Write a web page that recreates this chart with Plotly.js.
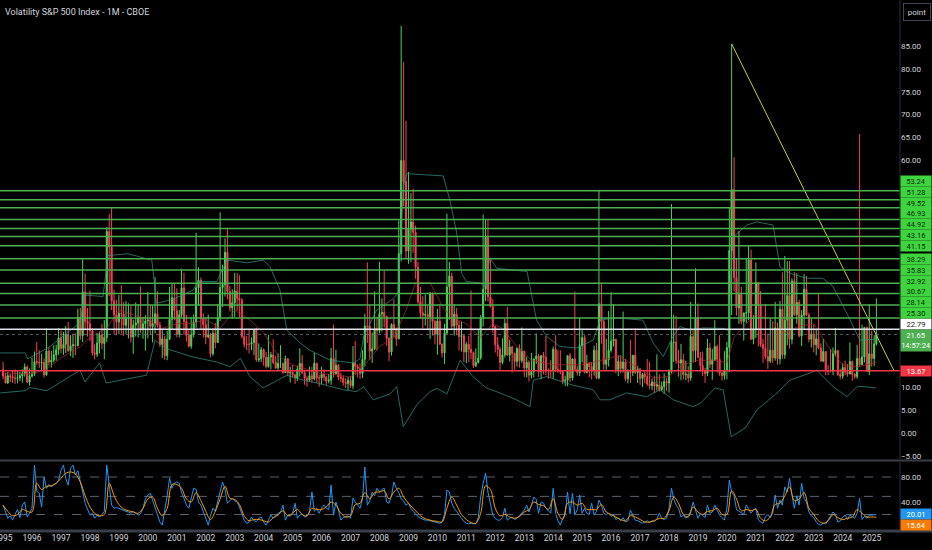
<!DOCTYPE html>
<html>
<head>
<meta charset="utf-8">
<script src="https://cdn.plot.ly/plotly-3.0.1.min.js"></script>
<style>
  html, body { margin: 0; padding: 0; background: #000; }
  #chart { width: 932px; height: 550px; }
</style>
</head>
<body>
<div id="chart"></div>
<script>
// VIX monthly candles, Jan 1995 .. Mar 2025 (one line per year)
const firstYear = 1995;

const opens = [
  14.0,12.5,11.0,12.6,12.4,12.1,12.0,12.1,12.6,13.0,14.5,11.2,
  12.5,13.0,15.7,15.6,15.4,15.5,12.8,18.0,15.6,16.0,17.2,18.3,
  20.9,18.6,19.5,21.6,18.1,19.2,19.4,19.2,25.4,21.4,31.0,24.5,
  24.0,22.5,17.6,17.3,19.8,21.6,19.7,21.0,44.3,40.9,29.0,26.0,
  24.4,26.3,26.2,23.7,25.2,25.2,21.1,23.7,24.2,25.4,22.7,24.0,
  24.6,24.9,23.4,24.1,26.2,23.7,19.5,20.7,17.0,20.6,25.0,29.7,
  26.9,21.7,26.0,31.9,24.5,21.5,19.1,21.6,24.4,31.9,33.6,25.1,
  23.8,21.1,21.6,17.4,21.9,19.9,25.4,32.0,32.6,39.7,31.1,27.5,
  28.6,31.2,29.6,29.2,21.2,19.5,19.5,19.5,19.9,22.7,16.1,16.3,
  18.3,16.6,14.6,16.7,17.2,15.5,14.3,15.3,15.3,13.3,16.3,13.2,
  13.3,12.8,12.1,14.0,15.3,13.3,12.0,11.6,12.6,11.9,15.3,12.1,
  12.1,12.9,12.3,11.4,11.6,16.4,13.1,14.9,12.3,12.0,11.1,10.9,
  11.6,10.4,15.4,14.6,14.2,13.1,16.2,23.5,23.4,18.0,18.5,22.9,
  22.5,26.2,26.5,25.6,20.8,17.8,23.9,22.9,20.7,39.4,59.9,55.3,
  40.0,44.8,46.4,44.1,36.5,28.9,26.4,25.9,26.0,25.6,30.7,24.5,
  21.7,24.6,19.5,17.6,22.0,32.1,34.5,23.5,26.1,23.7,21.2,21.4,
  17.8,19.5,18.4,17.7,14.8,15.5,16.5,25.3,31.6,43.0,29.96,27.8,
  23.4,19.4,18.4,15.5,17.2,24.1,17.1,18.9,17.5,15.7,18.6,15.9,
  18.0,14.3,15.5,12.7,13.5,16.3,16.9,13.5,17.0,16.6,13.8,13.7,
  13.7,18.4,14.0,13.9,13.4,11.4,11.6,17.0,12.1,16.3,14.0,13.3,
  19.2,20.97,13.3,15.3,14.6,13.8,18.2,12.1,28.4,24.5,15.1,16.1,
  18.2,20.2,20.6,13.95,15.7,14.2,15.6,11.9,13.4,13.3,17.1,13.3,
  14.0,11.99,12.9,12.4,10.8,10.4,11.2,10.3,10.6,9.5,10.2,11.3,
  11.0,13.5,19.9,19.97,15.9,15.4,16.1,12.8,12.9,12.1,21.2,18.1,
  25.4,16.6,14.8,13.7,13.1,18.7,15.1,16.1,19.0,16.2,13.2,12.6,
  13.8,18.8,40.1,53.5,34.2,27.5,30.4,24.5,26.4,26.4,38.0,20.6,
  22.8,33.1,27.95,19.4,18.6,16.8,15.8,18.2,16.5,23.1,16.3,27.2,
  17.2,24.8,30.2,20.6,33.4,26.0,28.7,21.3,25.9,31.6,25.9,20.6,
  21.7,19.4,20.7,18.7,15.8,17.9,13.6,13.6,13.6,17.5,18.1,12.9,
  12.5,14.4,13.4,13.0,15.7,12.9,12.4,16.4,15.0,16.7,23.2,13.5,
  17.4,16.4,19.6
];

const highs = [
  15.7,13.2,13.4,13.0,13.8,14.0,13.6,13.4,14.0,15.3,14.9,14.2,
  16.6,17.9,20.0,18.2,17.4,16.4,23.0,18.8,18.1,19.3,19.4,23.1,
  22.5,22.2,23.5,24.4,21.5,21.8,21.9,27.3,27.5,38.2,35.0,27.5,
  31.3,23.0,19.5,22.0,22.3,24.0,24.8,45.3,48.1,49.5,31.5,29.3,
  30.3,32.5,28.8,29.0,28.5,28.0,24.9,28.7,28.3,32.2,25.5,25.9,
  31.0,28.1,28.0,34.3,31.2,24.4,22.6,21.4,22.5,32.1,32.9,33.0,
  31.8,27.0,36.1,35.2,26.0,22.6,25.5,26.1,44.0,36.4,34.2,26.3,
  25.5,26.0,22.0,23.0,24.2,28.4,48.5,37.0,42.8,45.1,32.3,31.6,
  35.2,35.2,34.7,29.6,22.8,21.3,22.7,21.0,22.9,23.1,19.7,18.9,
  18.6,17.8,21.6,17.8,20.6,17.0,17.5,19.3,15.5,17.0,16.4,14.6,
  15.0,12.9,14.8,18.6,17.1,13.9,12.5,14.6,14.5,17.6,15.5,12.8,
  14.6,14.0,12.5,13.0,18.7,23.8,18.3,15.2,13.3,12.6,12.1,12.3,
  12.5,19.1,20.2,15.1,15.3,18.2,26.2,37.5,28.1,22.1,31.1,25.6,
  37.6,29.6,35.6,25.8,21.0,24.1,29.4,23.2,46.7,89.5,81.5,68.6,
  57.4,52.7,53.7,45.6,37.6,32.1,30.1,30.4,28.1,31.0,30.9,24.9,
  27.3,28.1,19.7,24.0,48.2,37.6,35.2,28.3,27.5,24.6,24.4,21.4,
  20.0,21.3,31.3,17.9,18.6,22.7,25.9,48.0,46.9,46.9,38.0,29.4,
  23.6,21.1,18.9,20.8,25.1,27.7,20.5,19.2,17.7,18.8,19.5,23.2,
  18.0,16.7,16.0,17.6,16.3,21.9,17.4,17.1,17.8,21.3,14.2,16.0,
  19.0,21.5,18.2,18.2,13.7,12.6,17.1,17.6,16.3,31.1,14.7,25.2,
  22.9,21.5,17.2,15.6,15.6,19.2,19.8,53.3,33.0,24.9,20.7,26.8,
  30.9,28.4,20.7,17.1,17.1,26.7,16.3,14.0,20.5,17.1,23.0,14.7,
  14.3,13.2,13.5,16.3,15.6,12.0,12.6,17.3,12.9,11.3,13.1,12.2,
  14.0,50.3,26.0,25.7,18.3,19.6,17.4,15.9,14.7,28.8,22.6,36.2,
  28.5,17.8,17.9,14.3,20.7,19.8,18.5,24.8,19.4,21.5,13.5,18.0,
  20.0,49.5,85.5,60.6,38.3,44.4,32.1,26.3,38.3,41.2,40.3,25.9,
  37.5,33.1,31.2,20.7,28.4,21.8,25.1,24.5,28.8,24.3,29.0,35.3,
  38.9,37.8,37.8,34.0,35.4,35.1,29.3,27.0,34.9,34.5,26.4,25.2,
  23.8,22.8,30.8,19.7,20.7,17.9,14.9,18.5,18.8,23.1,18.3,14.1,
  15.3,15.9,15.2,19.9,15.9,13.2,19.4,65.7,23.8,23.2,23.4,28.3,
  22.5,21.5,29.6
];

const lows = [
  11.8,10.9,10.8,11.2,11.0,10.8,10.9,11.4,11.1,12.4,11.0,10.4,
  12.2,12.5,15.0,14.3,13.6,12.2,12.6,14.8,14.4,15.5,15.9,17.2,
  17.5,17.2,17.6,17.8,16.9,16.5,17.1,19.0,20.5,20.0,22.5,21.2,
  20.2,17.0,16.2,16.7,17.5,18.4,16.2,20.0,30.1,27.0,21.8,21.5,
  21.7,21.9,21.3,21.7,20.8,19.9,17.4,21.2,21.0,22.0,20.7,18.1,
  20.8,21.5,19.9,21.9,23.2,18.9,16.5,16.1,16.0,20.5,22.9,24.8,
  21.0,21.0,25.4,21.6,20.1,18.8,18.5,21.0,23.1,28.1,22.9,21.0,
  19.5,20.8,16.6,17.0,18.6,19.8,24.6,27.7,30.0,29.4,26.7,25.1,
  25.5,26.9,25.4,20.8,18.8,18.2,17.5,18.2,17.1,15.7,15.6,15.6,
  14.8,14.2,14.4,14.0,15.1,14.1,13.9,14.3,13.0,13.3,12.6,11.1,
  12.2,10.8,11.4,12.4,12.9,10.6,10.2,11.3,11.1,11.6,11.0,10.2,
  10.7,11.5,10.6,10.9,10.6,12.2,12.8,11.6,11.2,10.4,9.9,9.4,
  9.9,9.7,12.7,12.2,11.9,12.1,14.6,19.8,16.1,15.4,18.2,18.2,
  21.9,22.3,23.2,19.2,15.8,17.0,21.1,19.1,20.6,37.7,49.8,38.2,
  37.2,37.6,39.6,33.9,28.4,25.1,23.0,23.6,22.9,20.7,21.4,19.5,
  17.2,19.5,16.6,15.2,21.5,24.9,22.7,21.4,21.5,18.1,17.9,15.6,
  15.4,15.6,16.2,14.3,14.5,15.3,16.1,23.4,29.0,28.9,27.6,22.0,
  17.7,16.8,13.7,15.1,16.6,17.0,15.7,13.3,13.9,14.6,14.4,15.4,
  12.3,12.2,11.3,12.0,12.2,15.2,12.3,11.8,12.9,12.7,11.9,12.2,
  11.9,13.4,13.2,12.9,10.7,10.3,10.3,11.2,11.5,13.9,12.6,12.5,
  15.5,13.1,13.1,12.3,11.8,12.6,11.8,11.8,19.6,13.9,13.9,14.6,
  17.7,19.0,13.1,12.5,13.1,13.3,11.4,10.9,11.0,12.5,12.9,11.0,
  10.6,10.1,10.9,10.4,9.6,9.4,8.8,9.3,9.1,9.2,8.6,9.2,
  8.9,13.1,15.6,15.2,12.4,11.6,11.8,11.6,11.1,11.5,15.5,15.6,
  16.6,13.5,12.5,11.0,12.5,14.3,11.7,15.8,13.3,12.6,11.5,11.7,
  11.8,13.4,25.9,31.1,25.8,24.0,23.9,20.3,24.2,24.8,20.5,19.5,
  20.9,19.0,18.9,15.4,16.2,14.1,15.4,15.4,15.9,15.0,15.1,16.3,
  16.3,19.3,18.6,19.5,25.7,24.0,21.0,19.1,22.7,25.7,19.9,18.8,
  17.7,17.1,18.4,15.7,15.6,12.7,12.7,13.3,12.7,16.9,12.5,11.8,
  11.9,12.7,12.4,12.9,11.5,11.9,11.9,14.6,15.0,15.5,13.5,12.7,
  14.6,14.7,19.2
];

const closes = [
  12.5,11.0,12.6,12.4,12.1,12.0,12.1,12.6,13.0,14.5,11.2,12.5,
  13.0,15.7,15.6,15.4,15.5,12.8,18.0,15.6,16.0,17.2,18.3,20.9,
  18.6,19.5,21.6,18.1,19.2,19.4,19.2,25.4,21.4,31.0,24.5,24.0,
  22.5,17.6,17.3,19.8,21.6,19.7,21.0,44.3,40.9,29.0,26.0,24.4,
  26.3,26.2,23.7,25.2,25.2,21.1,23.7,24.2,25.4,22.7,24.0,24.6,
  24.9,23.4,24.1,26.2,23.7,19.5,20.7,17.0,20.6,25.0,29.7,26.9,
  21.7,26.0,31.9,24.5,21.5,19.1,21.6,24.4,31.9,33.6,25.1,23.8,
  21.1,21.6,17.4,21.9,19.9,25.4,32.0,32.6,39.7,31.1,27.5,28.6,
  31.2,29.6,29.2,21.2,19.5,19.5,19.5,19.9,22.7,16.1,16.3,18.3,
  16.6,14.6,16.7,17.2,15.5,14.3,15.3,15.3,13.3,16.3,13.2,13.3,
  12.8,12.1,14.0,15.3,13.3,12.0,11.6,12.6,11.9,15.3,12.1,12.1,
  12.9,12.3,11.4,11.6,16.4,13.1,14.9,12.3,12.0,11.1,10.9,11.6,
  10.4,15.4,14.6,14.2,13.1,16.2,23.5,23.4,18.0,18.5,22.9,22.5,
  26.2,26.5,25.6,20.8,17.8,23.9,22.9,20.7,39.4,59.9,55.3,40.0,
  44.8,46.4,44.1,36.5,28.9,26.4,25.9,26.0,25.6,30.7,24.5,21.7,
  24.6,19.5,17.6,22.0,32.1,34.5,23.5,26.1,23.7,21.2,21.4,17.8,
  19.5,18.4,17.7,14.8,15.5,16.5,25.3,31.6,43.0,29.96,27.8,23.4,
  19.4,18.4,15.5,17.2,24.1,17.1,18.9,17.5,15.7,18.6,15.9,18.0,
  14.3,15.5,12.7,13.5,16.3,16.9,13.5,17.0,16.6,13.8,13.7,13.7,
  18.4,14.0,13.9,13.4,11.4,11.6,17.0,12.1,16.3,14.0,13.3,19.2,
  20.97,13.3,15.3,14.6,13.8,18.2,12.1,28.4,24.5,15.1,16.1,18.2,
  20.2,20.6,13.95,15.7,14.2,15.6,11.9,13.4,13.3,17.1,13.3,14.0,
  11.99,12.9,12.4,10.8,10.4,11.2,10.3,10.6,9.5,10.2,11.3,11.0,
  13.5,19.9,19.97,15.9,15.4,16.1,12.8,12.9,12.1,21.2,18.1,25.4,
  16.6,14.8,13.7,13.1,18.7,15.1,16.1,19.0,16.2,13.2,12.6,13.8,
  18.8,40.1,53.5,34.2,27.5,30.4,24.5,26.4,26.4,38.0,20.6,22.8,
  33.1,27.95,19.4,18.6,16.8,15.8,18.2,16.5,23.1,16.3,27.2,17.2,
  24.8,30.2,20.6,33.4,26.0,28.7,21.3,25.9,31.6,25.9,20.6,21.7,
  19.4,20.7,18.7,15.8,17.9,13.6,13.6,13.6,17.5,18.1,12.9,12.5,
  14.4,13.4,13.0,15.7,12.9,12.4,16.4,15.0,16.7,23.2,13.5,17.4,
  16.4,19.6,21.65
];

// Bollinger bands
const bbUpperDates = ['1994-11-25','1995-10-05','1995-11-10','1996-08-15','1997-03-15','1997-08-28','1997-10-30','1998-06-15','1998-08-15','1999-04-25',
  '2000-02-20','2000-04-20','2000-11-15','2001-07-25','2001-09-28','2002-05-20','2002-09-25','2003-06-01','2003-12-25','2004-03-20',
  '2004-07-25','2004-10-20','2005-04-05','2005-08-05','2006-04-20','2007-02-05','2007-05-01','2007-06-15','2007-11-25','2008-06-20',
  '2008-08-20','2008-10-28','2008-12-10','2010-03-15','2010-06-10','2010-09-01','2010-11-05','2011-01-01','2011-06-20','2011-08-25',
  '2011-10-25','2012-01-20','2013-02-05','2013-06-05','2013-10-10','2014-03-28','2014-10-28','2015-05-20','2015-08-15','2016-03-15',
  '2017-02-05','2017-06-15','2017-10-20','2018-02-20','2018-05-20','2018-09-25','2019-03-05','2019-11-15','2020-01-20','2020-03-15',
  '2020-09-10','2021-01-15','2021-08-05','2021-11-01','2022-03-05','2022-10-10','2023-04-25','2023-09-01','2024-04-05','2024-08-05',
  '2025-01-20','2025-03-01'];
const bbUpper = [17.6,17.6,16.3,19.0,22.0,24.2,30.3,30.0,39.0,39.4,
  38.0,28.5,29.4,31.4,33.3,33.3,38.0,37.4,38.0,36.6,
  31.4,22.6,19.8,18.2,16.0,15.4,16.3,21.2,27.0,29.5,
  30.7,54.0,57.0,56.5,51.0,44.0,35.0,33.3,33.0,32.2,
  38.5,36.2,35.5,24.8,21.2,19.0,18.7,20.4,24.8,25.3,
  24.8,19.8,16.8,21.2,23.4,22.6,23.1,23.0,22.5,43.0,
  45.7,46.4,45.7,36.5,35.1,34.0,34.0,32.2,24.8,20.4,
  20.6,20.6];

const bbLowerDates = ['1994-11-25','1995-10-05','1995-12-05','1996-07-05','1997-08-28','1997-10-30','1998-05-01','1998-07-25','1999-12-15','2000-04-01',
  '2000-08-30','2001-07-25','2002-05-20','2002-11-01','2003-03-15','2003-07-10','2003-12-25','2004-10-20','2005-05-20','2005-11-01',
  '2006-10-05','2007-03-20','2007-06-15','2007-10-15','2008-05-15','2008-08-05','2008-10-28','2009-04-15','2009-10-01','2009-12-25',
  '2010-05-01','2010-10-15','2011-03-25','2011-09-10','2012-03-01','2012-09-25','2013-03-15','2013-04-25','2013-10-10','2014-09-10',
  '2015-05-20','2015-08-15','2015-12-15','2016-07-15','2017-03-25','2017-09-10','2018-02-25','2018-11-01','2019-02-05','2019-08-05',
  '2019-11-15','2020-02-25','2020-08-20','2021-01-15','2021-09-25','2022-03-05','2022-11-15','2023-02-05','2023-04-25','2023-09-01',
  '2024-02-25','2024-07-01','2024-09-20','2025-01-20','2025-03-01'];
const bbLower = [8.8,9.3,10.0,9.3,13.8,11.2,15.4,11.0,12.7,20.4,
  18.5,16.7,15.6,14.6,16.4,12.4,9.9,12.7,11.6,11.0,
  9.5,9.1,10.2,7.3,8.6,10.2,1.4,6.2,9.1,9.8,
  8.6,16.0,12.4,9.9,8.8,7.3,5.8,11.6,12.4,10.5,
  9.5,7.3,7.3,8.8,8.0,9.5,7.3,5.8,6.6,9.9,
  9.5,-0.8,1.1,5.1,8.8,11.6,13.2,13.8,12.5,10.2,
  8.0,10.2,10.2,9.9,9.9];

const bbBasisDates = ['1995-01-01','1996-01-01','1996-07-01','1997-01-01','1997-09-01','1998-01-01','1998-08-01','1999-01-01','1999-07-01','2000-01-01',
  '2000-07-01','2001-01-01','2001-07-01','2002-01-01','2002-07-01','2003-01-01','2003-07-01','2004-01-01','2004-07-01','2005-01-01',
  '2005-07-01','2006-01-01','2006-07-01','2007-01-01','2007-07-01','2008-01-01','2008-07-01','2008-12-01','2009-04-01','2009-10-01',
  '2010-04-01','2010-09-01','2011-01-01','2011-07-01','2011-12-01','2012-04-01','2012-10-01','2013-04-01','2014-01-01','2015-01-01',
  '2015-09-01','2016-04-01','2017-01-01','2017-07-01','2018-01-01','2018-07-01','2019-01-01','2019-07-01','2020-01-01','2020-04-01',
  '2020-09-01','2021-01-01','2021-07-01','2022-01-01','2022-07-01','2023-01-01','2023-07-01','2024-01-01','2024-07-01','2025-03-01'];
const bbBasis = [13.2,13.0,14.0,16.5,19.0,21.0,23.0,27.0,26.0,25.0,
  23.0,24.0,24.0,25.0,23.0,27.0,25.0,22.0,17.0,15.0,
  14.0,13.0,12.8,12.3,15.0,19.0,21.0,27.0,33.0,33.0,
  27.0,25.0,24.0,21.0,24.0,23.0,19.0,16.0,15.0,15.0,
  16.0,17.0,14.0,12.0,12.5,15.0,16.0,16.0,15.5,21.0,
  24.0,26.0,25.0,22.0,23.5,24.0,19.0,15.0,14.5,15.5];

// lower pane oscillator (blue, monthly) and its average (orange, every 2 months)
const oscBlue = [
  35,22,14,18,11,20,28,15,35,40,16,22,
  30,99,57,54,32,80,62,68,64,68,70,75,
  91,99,78,67,94,99,83,90,75,56,38,28,
  19,22,14,19,16,20,25,99,62,35,30,31,
  30,28,27,25,24,22,25,22,19,21,30,45,
  51,54,42,30,19,8,3,24,50,78,62,70,
  72,70,55,46,35,30,45,62,60,40,35,25,
  14,3,18,30,25,40,55,72,60,38,42,46,
  42,40,32,20,11,6,8,16,10,8.5,14,16,
  8,3,11,19,14,19,22,24,35,11,19,17,
  22,38,14,19,21,16,18,24,56,25,30,22,
  30,35,30,28,67,19,40,28,11,15,16,18,
  14,46,40,35,30,45,96,35,42,56,50,62,
  56,60,62,40,38,50,72,62,55,45,42,35,
  38,30,25,22,16.5,14,12,11,11,10,9,8,
  8,6,8,20,59,56,38,30,25,20,14,9,
  6,5,6,5,5,15,48,70,86,56,35,19,
  14,11,11,15,30,11,14,16,12,14,18,22,
  27,35,24,35,48,44,22,40,38,30,25,22,
  62,22,10,3,14,20,56,21,54,19,28,51,
  22,30,22,20,38,19,25,43,35,22,20,22,
  17,20,12,14,10,15,8,10,27,20,11,10,
  8,6,8,10,7,10,9,13,22,14,12,14,
  30,62,45,35,30,16,19,14,18,25,40,28,
  14,22,18,15,35,22,24,35,27,19,15,11,
  30,75,56,50,28,25,22,20,35,28,22,27,
  30,12,8,6,16,20,15,22,51,30,43,35,
  64,56,78,52,30,50,35,70,46,40,24,18,
  15,8.5,4,3,6,5,12,19,24,20,8,10,
  16,19,12,19,16,14,22,46,12,17,14,19,
  19,20,20.01
];

const oscOrange = [
  35,25,18,20,28,25,
  24,70,60,65,66,70,
  78,86,88,85,72,50,
  32,22,18,20,70,50,
  36,29,26,24,22,30,
  45,48,30,18,30,68,
  68,62,45,40,55,42,
  25,12,25,45,65,46,
  44,36,18,10,12,12,
  10,8,15,19,26,18,
  22,28,20,18,30,28,
  28,32,40,35,22,16,
  18,36,38,55,45,55,
  56,58,45,56,62,48,
  38,30,22,15,12,10,
  9,8,30,48,35,20,
  12,7,6,22,66,60,
  30,18,20,16,14,17,
  24,28,40,36,34,28,
  45,22,12,38,40,35,
  38,28,28,28,36,24,
  20,16,12,10,18,16,
  12,8,8,10,14,14,
  26,48,38,20,16,32,
  24,20,25,26,30,20,
  20,58,45,26,28,26,
  28,14,10,16,36,38,
  50,64,42,45,55,30,
  20,10,6,10,20,15,
  12,14,16,28,22,16,
  16,15.64
];
const oscLevels = [80, 49, 20];

// drawings
const greenLevels = [25.30, 28.14, 30.67, 32.92, 35.83, 38.29, 41.15, 43.16, 44.92, 46.93, 49.52, 51.28, 53.24];
const whiteLevel = 22.79;
const redLevel = 13.67;
const lastPrice = 21.65;
const countdown = '14:57:24';
const trendDates = ['2020-03-01', '2025-10-10'];
const trendValues = [85.5, 13.67];

const priceTicks = [-5,0,5,10,15,20,25,30,35,40,45,50,55,60,65,70,75,80,85];
const oscTicks = [40, 80];

function monthDates(startYear, count, step) {
  const out = [];
  for (let i = 0; i < count; i += step) {
    const y = startYear + Math.floor(i / 12);
    const m = (i % 12) + 1;
    out.push(y + '-' + String(m).padStart(2, '0') + '-01');
  }
  return out;
}

const candleDates = monthDates(firstYear, closes.length, 1);
const orangeDates = monthDates(firstYear, oscOrange.length * 2, 2);

const upCol = '#4fd05a', downCol = '#ef4552';
const bandCol = 'rgba(52,150,138,0.7)';
const txtCol = '#d1d4dc';
const font = 'Roboto, "Liberation Sans", Arial, sans-serif';

const traces = [
  { x: bbUpperDates, y: bbUpper, type: 'scatter', mode: 'lines', line: { color: bandCol, width: 1 }, hoverinfo: 'skip' },
  { x: bbLowerDates, y: bbLower, type: 'scatter', mode: 'lines', line: { color: bandCol, width: 1 }, hoverinfo: 'skip' },
  { x: bbBasisDates, y: bbBasis, type: 'scatter', mode: 'lines', line: { color: 'rgba(170,45,45,0.7)', width: 1 }, hoverinfo: 'skip' },
  {
    x: candleDates, open: opens, high: highs, low: lows, close: closes,
    type: 'candlestick',
    increasing: { line: { color: upCol, width: 1 }, fillcolor: upCol },
    decreasing: { line: { color: downCol, width: 1 }, fillcolor: downCol },
    whiskerwidth: 0, hoverinfo: 'skip'
  },
  { x: trendDates, y: trendValues, type: 'scatter', mode: 'lines', line: { color: '#c9cc3f', width: 1 }, hoverinfo: 'skip' },
  { x: candleDates, y: oscBlue, type: 'scatter', mode: 'lines', yaxis: 'y2', line: { color: '#2196f3', width: 1 }, hoverinfo: 'skip' },
  { x: orangeDates, y: oscOrange, type: 'scatter', mode: 'lines', yaxis: 'y2', line: { color: '#ff9800', width: 1, shape: 'spline' }, hoverinfo: 'skip' }
];

const mainDomain = [0.1337, 1];
const oscDomain = [0, 0.1318];
const mainRange = [-5.93, 95.16];
const oscRange = [-6.4, 105.6];
const plotH = 550 - 19;

const shapes = [];
greenLevels.forEach(v => shapes.push({ type: 'line', xref: 'paper', yref: 'y', x0: 0, x1: 1, y0: v, y1: v, line: { color: '#4caf50', width: 1.5 } }));
shapes.push({ type: 'line', xref: 'paper', yref: 'y', x0: 0, x1: 1, y0: whiteLevel, y1: whiteLevel, line: { color: '#e0e3eb', width: 1.5 } });
shapes.push({ type: 'line', xref: 'paper', yref: 'y', x0: 0, x1: 1, y0: lastPrice, y1: lastPrice, line: { color: 'rgba(120,123,134,0.7)', width: 1, dash: 'dot' } });
shapes.push({ type: 'line', xref: 'paper', yref: 'y', x0: 0, x1: 1, y0: redLevel, y1: redLevel, line: { color: '#f23645', width: 1.5 } });
oscLevels.forEach(v => shapes.push({ type: 'line', xref: 'paper', yref: 'y2', x0: 0, x1: 1, y0: v, y1: v, layer: 'below', line: { color: '#5d606b', width: 1, dash: 'dash' } }));
// pane separators and price scale border
shapes.push({ type: 'line', xref: 'paper', yref: 'paper', x0: 0, x1: 1.04, y0: mainDomain[0] - 0.001, y1: mainDomain[0] - 0.001, line: { color: '#3a3e48', width: 2 } });
shapes.push({ type: 'line', xref: 'paper', yref: 'paper', x0: 0, x1: 1.04, y0: 0, y1: 0, line: { color: '#3a3e48', width: 3 } });
shapes.push({ type: 'line', xref: 'paper', yref: 'paper', x0: 1, x1: 1, y0: 0, y1: 1, line: { color: '#2a2e39', width: 1 } });

// right-scale tags, stacked so they do not overlap
const annotations = [];
const mainPx = plotH * (mainDomain[1] - mainDomain[0]) / (mainRange[1] - mainRange[0]);
const oscPx = plotH * (oscDomain[1] - oscDomain[0]) / (oscRange[1] - oscRange[0]);
const tagH = 10.8;
const spans = [];
function tag(y, yref, text, bg, fg, extra) {
  return Object.assign({
    xref: 'paper', x: 1, xanchor: 'left', yref: yref, y: y, yanchor: 'middle',
    text: text, showarrow: false, bgcolor: bg, borderpad: 0, width: 30, height: 10.4,
    font: { family: font, size: 7.5, color: fg }
  }, extra || {});
}
let prev = lastPrice;
[whiteLevel].concat(greenLevels).forEach((v, i) => {
  const pos = Math.max(v, prev + tagH / mainPx);
  prev = pos;
  spans.push([pos - 5.4 / mainPx, pos + 5.4 / mainPx]);
  if (i === 0) annotations.push(tag(pos, 'y', v.toFixed(2), '#ffffff', '#131722'));
  else annotations.push(tag(pos, 'y', v.toFixed(2), '#3ed43e', '#0b2a0b'));
});
annotations.push(tag(lastPrice, 'y', lastPrice.toFixed(2) + '<br>' + countdown, '#4caf50', '#ffffff', { yanchor: 'top', yshift: 5.5, height: 20.5 }));
spans.push([lastPrice - 15.5 / mainPx, lastPrice + 5.5 / mainPx]);
annotations.push(tag(redLevel, 'y', redLevel.toFixed(2), '#f23645', '#ffffff'));
spans.push([redLevel - 5.4 / mainPx, redLevel + 5.4 / mainPx]);
const blueLast = oscBlue[oscBlue.length - 1];
const orangeLast = oscOrange[oscOrange.length - 1];
annotations.push(tag(blueLast, 'y2', blueLast.toFixed(2), '#2196f3', '#ffffff'));
annotations.push(tag(Math.min(orangeLast, blueLast - tagH / oscPx), 'y2', orangeLast.toFixed(2), '#f57c00', '#ffffff'));

// scale labels that sit under a tag are hidden, as on the original
const halfLabel = 4.5 / mainPx;
const shownTicks = priceTicks.filter(t => !spans.some(s => t + halfLabel > s[0] && t - halfLabel < s[1]));

annotations.push({
  xref: 'paper', yref: 'paper', x: 0, y: 1, xanchor: 'left', yanchor: 'top', xshift: 3, yshift: -5,
  text: 'Volatility S&P 500 Index - 1M - CBOE', showarrow: false,
  font: { family: font, size: 9, color: txtCol }
});
annotations.push({
  xref: 'paper', yref: 'paper', x: 1, y: 1, xanchor: 'left', yanchor: 'top', xshift: 3, yshift: -3,
  text: 'point', showarrow: false, bgcolor: '#000000', bordercolor: '#434651', borderwidth: 1, borderpad: 2,
  width: 22, height: 12, font: { family: font, size: 8, color: txtCol }
});

const layout = {
  width: 932, height: 550,
  margin: { l: 0, r: 32, t: 0, b: 19 },
  paper_bgcolor: '#000000', plot_bgcolor: '#000000',
  showlegend: false,
  font: { family: font, size: 8.5, color: txtCol },
  xaxis: {
    type: 'date', range: ['1994-11-23', '2025-12-24'], anchor: 'y2',
    tickformat: '%Y', dtick: 'M12', tick0: '1995-01-01', ticks: '',
    ticklabeloverflow: 'allow',
    showgrid: false, zeroline: false, showline: false,
    tickfont: { family: font, size: 8.5, color: txtCol },
    rangeslider: { visible: false }, fixedrange: true
  },
  yaxis: {
    domain: mainDomain, range: mainRange, side: 'right',
    tickvals: shownTicks, tickformat: '.2f', ticks: '',
    showgrid: false, zeroline: false, showline: false,
    tickfont: { family: font, size: 8, color: txtCol }, fixedrange: true
  },
  yaxis2: {
    domain: oscDomain, range: oscRange, side: 'right', anchor: 'x',
    tickvals: oscTicks, tickformat: '.2f', ticks: '',
    showgrid: false, zeroline: false, showline: false,
    tickfont: { family: font, size: 8, color: txtCol }, fixedrange: true
  },
  shapes: shapes,
  annotations: annotations
};

Plotly.newPlot('chart', traces, layout, { staticPlot: true, displayModeBar: false });
</script>
</body>
</html>
